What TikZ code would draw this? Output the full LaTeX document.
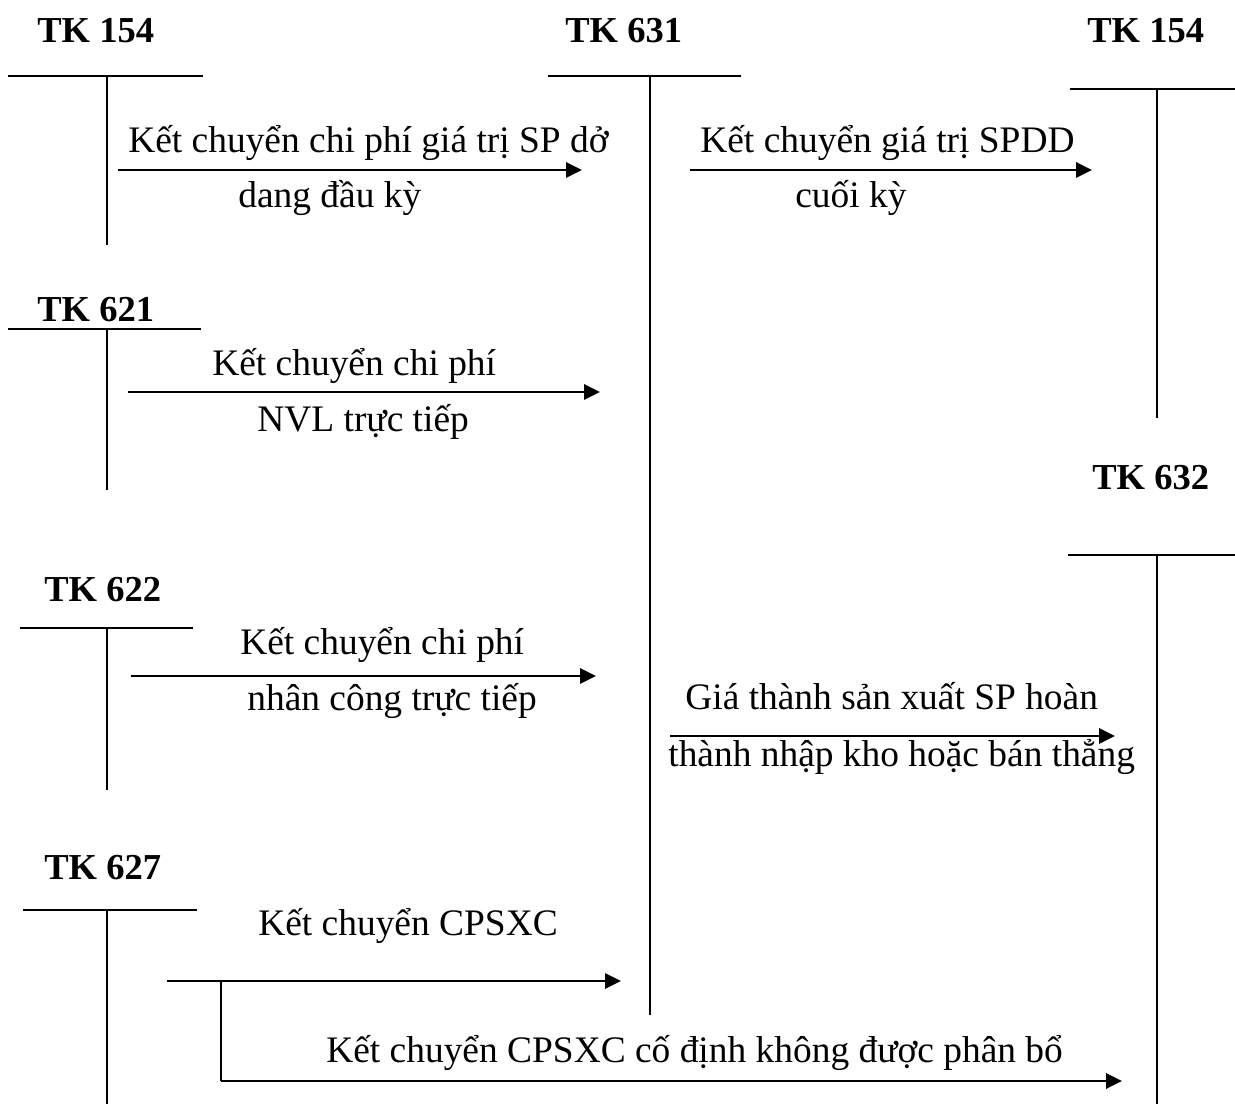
\documentclass[tikz,border=0pt]{standalone}
\usepackage{fontspec}
\setmainfont{Liberation Serif}
\usetikzlibrary{arrows.meta}
\begin{document}
\begin{tikzpicture}[x=0.02cm,y=-0.02cm,
  acct/.style={font=\fontsize{20.8}{24}\selectfont\bfseries, anchor=base west, inner sep=0pt},
  lbl/.style={font=\fontsize{21.3}{25}\selectfont, anchor=base west, inner sep=0pt},
  tline/.style={line width=1.1pt},
  flow/.style={line width=1.7pt, -{Triangle[length=9pt,width=8.5pt]}},
  branch/.style={line width=1.1pt}]
\useasboundingbox (0,0) rectangle (1235,1104);

% account headings
\node[acct] (h154a) at (37,43) {TK 154};
\node[acct] (h631)  at (565,43) {TK 631};
\node[acct] (h154b) at (1087,43) {TK 154};
\node[acct] (h621)  at (37,322) {TK 621};
\node[acct] (h632)  at (1092,490) {TK 632};
\node[acct] (h622)  at (44,602) {TK 622};
\node[acct] (h627)  at (44,880) {TK 627};

% T-accounts: top bar and vertical stem
\coordinate (a154L) at (8,76);    \coordinate (a154R) at (203,76);
\coordinate (a154T) at (107,76);  \coordinate (a154B) at (107,245);
\coordinate (a631L) at (548,76);  \coordinate (a631R) at (741,76);
\coordinate (a631T) at (650,76);  \coordinate (a631B) at (650,1015);
\coordinate (b154L) at (1070,89); \coordinate (b154R) at (1235,89);
\coordinate (b154T) at (1157,89); \coordinate (b154B) at (1157,418);
\coordinate (a621L) at (8,329);   \coordinate (a621R) at (201,329);
\coordinate (a621T) at (107,329); \coordinate (a621B) at (107,490);
\coordinate (a622L) at (20,628);  \coordinate (a622R) at (193,628);
\coordinate (a622T) at (107,628); \coordinate (a622B) at (107,790);
\coordinate (a627L) at (23,910);  \coordinate (a627R) at (197,910);
\coordinate (a627T) at (107,910); \coordinate (a627B) at (107,1104);
\coordinate (a632L) at (1068,555);\coordinate (a632R) at (1235,555);
\coordinate (a632T) at (1157,555);\coordinate (a632B) at (1157,1104);

\foreach \t in {a154,a631,b154,a621,a622,a627,a632}{
  \draw[tline] (\t L) -- (\t R);
  \draw[tline] (\t T) -- (\t B);
}

% transfer arrows
\coordinate (f1s) at (118,170);  \coordinate (f1e) at (582,170);
\coordinate (f2s) at (690,170);  \coordinate (f2e) at (1092,170);
\coordinate (f3s) at (128,392);  \coordinate (f3e) at (600,392);
\coordinate (f4s) at (131,676);  \coordinate (f4e) at (596,676);
\coordinate (f5s) at (670,736);  \coordinate (f5e) at (1115,736);
\coordinate (f6s) at (167,981);  \coordinate (f6e) at (621,981);
\coordinate (f7s) at (221,981);  \coordinate (f7c) at (221,1081);
\coordinate (f7e) at (1122,1081);

\draw[flow] (f1s) -- (f1e);
\draw[flow] (f2s) -- (f2e);
\draw[flow] (f3s) -- (f3e);
\draw[flow] (f4s) -- (f4e);
\draw[flow] (f5s) -- (f5e);
\draw[flow] (f6s) -- (f6e);
\draw[branch] (f7s) -- (f7c);
\draw[flow] (f7c) -- (f7e);

% arrow labels
\node[lbl] (t1a) at (128,153) {Kết chuyển chi phí giá trị SP dở};
\node[lbl] (t1b) at (238,208) {dang đầu kỳ};
\node[lbl] (t2a) at (700,153) {Kết chuyển giá trị SPDD};
\node[lbl] (t2b) at (795,208) {cuối kỳ};
\node[lbl] (t3a) at (212,376) {Kết chuyển chi phí};
\node[lbl] (t3b) at (257,432) {NVL trực tiếp};
\node[lbl] (t4a) at (240,655) {Kết chuyển chi phí};
\node[lbl] (t4b) at (247,711) {nhân công trực tiếp};
\node[lbl] (t5a) at (685,710) {Giá thành sản xuất SP hoàn};
\node[lbl] (t5b) at (668,767) {thành nhập kho hoặc bán thẳng};
\node[lbl] (t6)  at (258,935) {Kết chuyển CPSXC};
\node[lbl] (t7)  at (326,1062) {Kết chuyển CPSXC cố định không được phân bổ};
\end{tikzpicture}
\end{document}
